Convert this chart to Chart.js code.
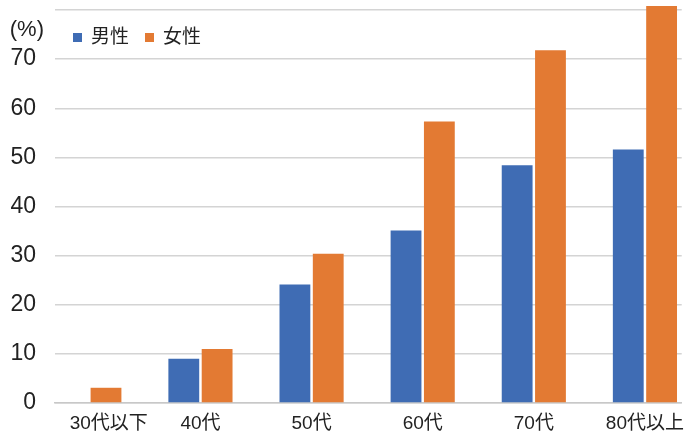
<!DOCTYPE html>
<html>
<head>
<meta charset="utf-8">
<script src="https://cdn.jsdelivr.net/npm/chart.js@4"></script>
<style>
  html, body { margin: 0; padding: 0; background: #fff; }
  #wrap { width: 685px; height: 433px; }
</style>
</head>
<body>
<div id="wrap"><canvas id="myBarChart"></canvas></div>
<script>
  // データ
  var categories = ['30代以下', '40代', '50代', '60代', '70代', '80代以上'];
  var male = [0, 9.0, 24.1, 35.1, 48.4, 51.6];
  var female = [3.1, 11.0, 30.4, 57.3, 71.8, 80.8];
  var yTicks = [0, 10, 20, 30, 40, 50, 60, 70, 80];
  var fontFamily = '"Liberation Sans", Arial, "Noto Sans CJK JP", sans-serif';

  function toPoints(arr) {
      return arr.map(function (v, i) { return { x: i, y: v }; });
  }

  // 凡例と (%) をグラフ内に描く
  var overlay = {
      id: 'overlay',
      afterDraw: function (chart) {
          var c = chart.ctx;
          c.save();
          c.fillStyle = '#222';
          c.textBaseline = 'middle';
          c.font = '22px ' + fontFamily;
          c.textAlign = 'right';
          c.fillText('(%)', 44, 30);

          c.textAlign = 'left';
          c.font = '19px ' + fontFamily;
          var x = 73;
          chart.data.datasets.forEach(function (ds) {
              c.fillStyle = ds.backgroundColor;
              c.fillRect(x, 33, 9, 9);
              c.fillStyle = '#222';
              c.fillText(ds.label, x + 18, 38);
              x += 72;
          });
          c.restore();
      }
  };

  var ctx = document.getElementById('myBarChart').getContext('2d');
  var myBarChart = new Chart(ctx, {
      type: 'bar',
      data: {
          datasets: [{
              label: '男性',
              data: toPoints(male),
              backgroundColor: '#3f6cb4',
              clip: false
          }, {
              label: '女性',
              data: toPoints(female),
              backgroundColor: '#e37a33',
              clip: false
          }]
      },
      options: {
          responsive: true,
          maintainAspectRatio: false,
          animation: false,
          datasets: {
              // 先頭ラベルの位置ずらしで最小間隔が狭くなるぶん広めにしている
              bar: { categoryPercentage: 0.727, barPercentage: 0.925 }
          },
          layout: { padding: { top: 10, right: 0, left: 0, bottom: 0 } },
          plugins: {
              legend: { display: false },
              tooltip: { enabled: false }
          },
          scales: {
              x: {
                  type: 'linear',
                  offset: false,
                  min: -0.309,
                  max: 5.331,
                  afterBuildTicks: function (s) {
                      // 先頭のラベルだけ少し右に寄っている
                      s.ticks = categories.map(function (c, i) {
                          return { value: i === 0 ? 0.175 : i };
                      });
                  },
                  afterFit: function (s) { s.height = 30; },
                  grid: { display: false },
                  border: { color: '#c8c8c8', width: 1.5 },
                  ticks: {
                      autoSkip: false,
                      maxRotation: 0,
                      font: { size: 19, family: fontFamily },
                      color: '#222',
                      padding: 1,
                      callback: function (v, i) { return categories[i]; }
                  }
              },
              y: {
                  min: 0,
                  max: 80,
                  afterBuildTicks: function (s) {
                      s.ticks = yTicks.map(function (v) { return { value: v }; });
                  },
                  afterFit: function (s) {
                      s.width = 55;
                      s.paddingTop = 0;
                      s.paddingBottom = 0;
                  },
                  grid: { color: '#d4d4d4', lineWidth: 1.5, drawTicks: false },
                  border: { display: false },
                  ticks: {
                      font: { size: 23, family: fontFamily },
                      color: '#222',
                      padding: 19,
                      callback: function (v) { return v === 80 ? '' : v; }
                  }
              }
          }
      },
      plugins: [overlay]
  });
</script>
</body>
</html>
